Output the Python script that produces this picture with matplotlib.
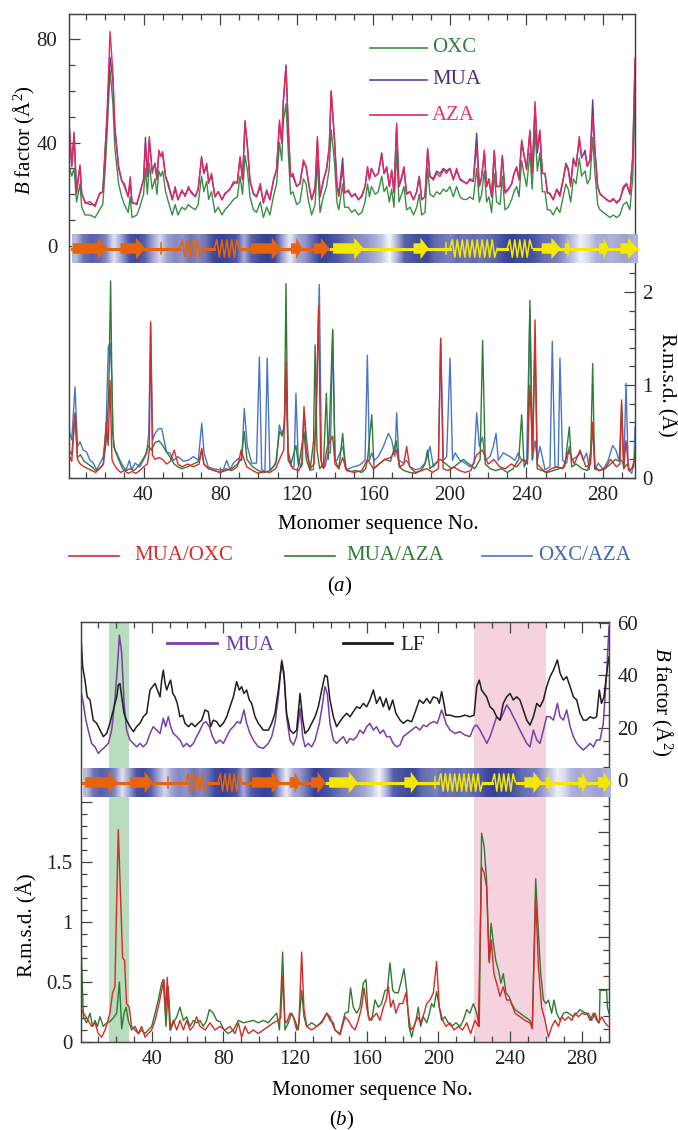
import numpy as np
import matplotlib
matplotlib.use('Agg')
import matplotlib.pyplot as plt
from matplotlib.colors import LinearSegmentedColormap
from matplotlib.lines import Line2D
from matplotlib.patches import Polygon

plt.rcParams['font.family'] = ['Liberation Serif', 'DejaVu Serif']
plt.rcParams['mathtext.fontset'] = 'custom'
plt.rcParams['mathtext.rm'] = 'Liberation Serif'
plt.rcParams['mathtext.it'] = 'Liberation Serif:italic'
plt.rcParams['font.size'] = 15
plt.rcParams['xtick.labelsize'] = 15
plt.rcParams['ytick.labelsize'] = 15

# ---------------- panel (a): B factors of the three complexes ----------------
RES_A = [1.0, 2.5, 3.7, 5.0, 6.8, 7.7, 9.5, 12, 14.7, 17,
         18.7, 20, 21, 22.5, 24, 25, 27, 28.6, 30, 32,
         33, 34, 36.5, 38, 40, 41, 42, 43, 44.5, 46,
         47, 48, 49, 50, 51.5, 53, 55, 56.5, 58, 60,
         61.7, 63.4, 65, 67, 68.5, 70.3, 71.5, 73, 74, 75.5,
         77.3, 79, 81, 82.5, 85, 87, 89, 90.4, 91.7, 93,
         94.3, 95.6, 97.4, 99, 101, 102.6, 104.3, 106, 107.8, 109.5,
         111, 112.2, 113, 114.4, 115.6, 116.8, 118, 120, 121.7, 123.5,
         124.9, 126, 127.8, 129.6, 130.8, 132.2, 133.9, 135.6, 137, 138,
         139.8, 141, 142, 144, 145, 147, 148.7, 150.5, 152.2, 154,
         155.7, 157, 158, 159, 161, 162.6, 164.4, 165.6, 167, 168.4,
         169.6, 170.8, 172.2, 173.4, 174.8, 176, 177.4, 179.2, 181, 182.7,
         184, 185.3, 187, 188.4, 189.6, 191.4, 193.1, 194.8, 196.6, 198.3,
         200, 201.8, 203.5, 205.3, 207, 208.8, 210.5, 212.2, 214, 215.4,
         216.6, 218, 219.2, 220.4, 221.8, 223.2, 224.4, 226.2, 227.4, 228.8,
         230.5, 232.3, 233.5, 234.9, 236.1, 237.5, 238.7, 240.1, 241.8, 243,
         244.5, 245.7, 247, 248.3, 249.7, 250.9, 252.3, 254, 255.8, 257.5,
         259.2, 260.6, 261.8, 263.1, 264.5, 265.9, 267.6, 268.8, 270.6, 271.8,
         273.2, 274.6, 275.7, 277.2, 278.4, 280.1, 281.9, 283.6, 285.4, 287.1,
         288.8, 290.6, 292.3, 294, 295.5, 296.7]
AZA_B = [49.4, 30.7, 42.3, 20.4, 31.3, 20.4, 16.5, 17.2, 15.2, 20.4,
         21, 38.4, 52.6, 82.9, 66.8, 46.2, 30.7, 25.5, 23, 19.1,
         26.8, 16.5, 16.5, 20.4, 25.5, 39.7, 26.8, 42.3, 28.1, 32,
         25.5, 37.1, 34.6, 36.5, 26.8, 23, 17.8, 23, 17.8, 21.7,
         19.1, 23, 20.4, 19.1, 21.7, 34.6, 28.1, 32, 24.2, 28.1,
         19.1, 21, 17.8, 20.4, 21.7, 24.9, 24.2, 34.6, 25.5, 47.5,
         38.4, 25.5, 20.4, 19.1, 24.2, 16.5, 21.7, 17.8, 25.5, 29.4,
         48.7, 39.7, 56.5, 69.4, 46.2, 26.8, 28.1, 23, 24.2, 33.3,
         30.7, 25.5, 17.8, 23, 42.3, 19.1, 25.5, 29.4, 38.4, 59.7,
         41, 23, 19.1, 30, 20.4, 21.7, 19.1, 20.4, 17.8, 19.7,
         23, 30.7, 25.5, 30, 26.8, 28.1, 35.2, 28.1, 30.7, 23,
         29.4, 20.4, 47.5, 23, 26.8, 30.7, 20.4, 21, 17.8, 21,
         26.8, 17.8, 19.1, 37.8, 26.8, 25.5, 28.1, 26.8, 29.4, 28.1,
         30, 25.5, 30, 25.5, 24.9, 24.2, 25.5, 24.9, 38.4, 23,
         26.2, 37.1, 23, 25.5, 19.1, 36.5, 23, 23, 34.6, 20.4,
         21.7, 24.2, 28.1, 30.7, 25.5, 41, 35.8, 29.4, 44.9, 28.1,
         55.8, 37.1, 44.9, 28.1, 28.1, 20.4, 20.4, 17.8, 21.7, 19.1,
         25.5, 31.3, 29.4, 23, 33.3, 30.7, 42.3, 34.6, 35.8, 30.7,
         33.3, 50, 37.1, 23, 20.4, 19.1, 17.8, 17.2, 18.4, 16.5,
         17.8, 23, 24.2, 20.4, 34.6, 72.6]
MUA_B = [48, 31, 44, 21, 31, 20, 17, 16, 16, 20,
         21, 37, 50, 73, 64, 45, 30, 25, 24, 19,
         25, 17, 16, 20, 26, 42, 27, 41, 29, 32,
         26, 36, 35, 35, 27, 24, 18, 22, 18, 21,
         20, 22, 21, 19, 22, 34, 28, 31, 25, 27,
         19, 21, 18, 20, 22, 24, 25, 34, 26, 48.5,
         38, 25, 20, 19, 23, 17, 21, 18, 25, 30,
         47, 40, 55, 70, 45, 27, 27, 23, 24, 32,
         31, 25, 18, 22, 41, 19, 25, 30, 38, 60,
         40, 24, 20, 34, 21, 21, 19, 20, 18, 19,
         23, 30, 26, 30, 27, 28, 36, 28, 30, 23,
         29, 21, 46, 23, 26, 30, 20, 21, 18, 21,
         27, 18, 19, 37, 27, 26, 29, 28, 30, 29,
         30, 26, 29, 26, 25, 24, 26, 25, 43.6, 23,
         27, 36, 23, 26, 19, 37, 23, 23, 35, 21,
         22, 24, 28, 30, 26, 40, 35, 30, 44, 28,
         54, 36, 44, 28, 28, 21, 20, 18, 22, 20,
         26, 32, 30, 24, 34, 31, 41, 34, 37, 31,
         33, 56.5, 38, 23, 20, 19, 18, 17, 18, 17,
         18, 22, 24, 20, 34, 70]
OXC_B = [31, 27, 30, 17, 24, 15, 12, 12, 11, 14,
         16, 30, 44, 68, 55, 38, 24, 19, 16, 13,
         19, 11, 12, 15, 20, 30, 20, 32, 22, 26,
         20, 29, 27, 29, 21, 17, 12, 16, 12, 15,
         14, 16, 15, 14, 16, 27, 21, 25, 18, 21,
         13, 15, 12, 14, 16, 18, 19, 27, 20, 35,
         29, 19, 14, 13, 17, 11, 15, 12, 19, 24,
         40, 33, 48, 55, 36, 20, 21, 16, 17, 26,
         24, 18, 12, 16, 33, 13, 19, 23, 30, 45,
         32, 17, 14, 24, 15, 15, 13, 14, 12, 13,
         17, 24, 19, 23, 20, 21, 27, 21, 23, 17,
         22, 15, 37, 17, 20, 23, 14, 15, 12, 15,
         20, 12, 13, 30, 20, 19, 21, 20, 22, 21,
         23, 19, 23, 19, 18, 18, 19, 18, 30, 17,
         20, 29, 17, 19, 13, 28, 17, 16, 27, 14,
         15, 18, 21, 23, 19, 33, 28, 23, 36, 22,
         45, 29, 36, 21, 21, 14, 14, 12, 15, 13,
         19, 24, 22, 17, 26, 24, 34, 27, 29, 24,
         26, 42, 29, 16, 14, 13, 12, 11, 12, 11,
         12, 16, 17, 14, 26, 55]

# ---------------- panel (a): pairwise r.m.s.d. ----------------
RES_OA = [1, 2.5, 4.2, 5.5, 6.8, 8.5, 10.3, 12, 13.8, 15.5,
          17.3, 19, 20.4, 21.6, 22.5, 23.4, 24.3, 26, 27.7, 29.5,
          31, 32.6, 33.8, 35.6, 38, 39.9, 41.7, 42.7, 43.7, 44.8,
          46, 47.8, 49.5, 50.7, 52, 53.8, 55.6, 58, 60.8, 63.4,
          66, 68.6, 70.4, 71.6, 73.8, 76.5, 79, 81.7, 83.4, 85.2,
          86.9, 89.5, 91.3, 92.6, 94.2, 96.5, 99, 100.5, 101.7, 103.4,
          104.6, 106, 107.8, 109.5, 110.9, 112.2, 113.4, 114.4, 115.6, 117.3,
          118.6, 119.6, 120.8, 122.6, 123.8, 125.2, 126.9, 128.7, 130, 131.8,
          133, 134.8, 136.5, 137.6, 138.8, 140, 141, 144, 146, 149.6,
          153, 155.7, 156.9, 158, 159.2, 160.5, 162.6, 165.3, 167.9, 169.6,
          171.3, 172.2, 173.4, 175.7, 177.4, 179.2, 181.8, 184.4, 187, 188.3,
          189.6, 191.4, 194, 195.2, 196.6, 198.3, 200.1, 201.4, 202.7, 205.3,
          207.9, 210.5, 212.6, 214, 215.4, 217.1, 218.4, 221, 222.7, 224.1,
          225.3, 227.9, 231.4, 234, 235.7, 237.5, 240.1, 241.8, 243, 244.5,
          245.7, 247.1, 249.7, 252.3, 253.5, 254.9, 256.6, 257.5, 258.9, 261,
          262.4, 263.6, 266.2, 268.3, 269.7, 271.4, 272.9, 274.6, 275.8, 277.5,
          280.1, 282.7, 285, 286.7, 288.5, 289.7, 290.9, 292, 293.2, 295,
          296.2, 296.7]
RMSD_OXC_AZA = [0.52, 0.41, 0.98, 0.34, 0.39, 0.30, 0.28, 0.19, 0.16, 0.09,
                0.16, 0.23, 0.52, 1.41, 1.45, 1.09, 0.34, 0.27, 0.19, 0.12,
                0.09, 0.19, 0.09, 0.16, 0.12, 0.19, 0.27, 0.48, 1.66, 0.41,
                0.48, 0.53, 0.53, 0.41, 0.28, 0.27, 0.19, 0.23, 0.18, 0.19,
                0.23, 0.19, 0.59, 0.27, 0.12, 0.10, 0.09, 0.09, 0.19, 0.09,
                0.16, 0.21, 0.19, 0.75, 0.34, 0.16, 0.16, 1.30, 0.09, 0.07,
                1.29, 0.09, 0.12, 0.19, 0.57, 0.48, 0.52, 1.05, 0.19, 0.12,
                0.12, 0.91, 0.19, 0.12, 0.73, 0.41, 0.09, 0.09, 0.60, 2.08,
                0.12, 0.12, 0.27, 0.27, 1.57, 0.19, 0.19, 0.34, 0.09, 0.12,
                0.14, 0.19, 1.32, 0.19, 0.27, 0.19, 0.23, 0.34, 0.48, 0.41,
                0.23, 0.70, 0.19, 0.16, 0.19, 0.12, 0.09, 0.10, 0.16, 0.23,
                0.34, 0.12, 0.19, 1.50, 0.19, 0.23, 1.29, 0.19, 0.27, 0.19,
                0.16, 0.12, 0.16, 0.70, 0.34, 0.44, 0.19, 0.23, 0.34, 0.48,
                0.19, 0.27, 0.23, 0.19, 0.27, 0.19, 0.19, 1.81, 0.19, 0.40,
                0.19, 0.34, 0.09, 0.12, 1.47, 0.12, 0.12, 1.29, 0.19, 0.16,
                0.34, 0.19, 0.23, 0.27, 0.19, 0.27, 0.09, 0.55, 0.09, 0.16,
                0.09, 0.19, 0.35, 0.30, 0.19, 0.19, 0.12, 1.02, 0.09, 0.05,
                0.19, 0.55]

RES_MO = [1, 2.5, 4.2, 5.5, 7, 9, 11, 13, 15, 17,
          19, 20.5, 21.5, 22.5, 23.5, 24.5, 26, 28, 30, 32,
          34, 36, 38, 40, 42, 43, 43.7, 44.6, 46, 48,
          50, 52, 54, 56, 58, 60, 63, 66, 69, 70.4,
          71.5, 74, 77, 80, 83, 86, 89, 91, 92.5, 94,
          97, 100, 103, 106, 109, 111, 113.2, 114.4, 115.6, 118,
          121, 122.8, 123.8, 125, 127, 129, 130.5, 131.4, 132.5, 134,
          136, 138.8, 140, 142, 144, 146, 150, 154, 157, 160,
          163, 166, 169, 172, 174, 176, 177.4, 179, 182, 185,
          188, 191, 194, 195.2, 196.5, 199, 202, 205, 208, 211,
          214, 217, 220, 223, 226, 229, 232, 235, 238, 240.5,
          241.8, 243.2, 244.5, 245.6, 247, 250, 253, 256, 259, 262,
          265, 268, 271, 273.5, 274.6, 275.8, 278, 281, 284, 287,
          288.8, 289.7, 290.8, 292, 293.5, 295, 296.7]
RMSD_MUA_OXC = [0.25, 0.18, 0.68, 0.2, 0.15, 0.12, 0.1, 0.08, 0.06, 0.1,
                0.15, 0.6, 0.35, 1.05, 0.2, 0.15, 0.1, 0.06, 0.08, 0.05,
                0.07, 0.05, 0.08, 0.12, 0.15, 0.3, 1.68, 0.25, 0.2, 0.22,
                0.2, 0.15, 0.18, 0.3, 0.15, 0.12, 0.15, 0.12, 0.15, 0.32,
                0.15, 0.1, 0.08, 0.06, 0.1, 0.08, 0.12, 0.3, 0.2, 0.12,
                0.08, 0.05, 0.07, 0.06, 0.1, 0.2, 0.3, 1.25, 0.2, 0.1,
                0.08, 0.15, 0.77, 0.3, 0.1, 0.15, 0.9, 1.85, 0.2, 0.1,
                0.34, 0.45, 0.15, 0.1, 0.22, 0.08, 0.06, 0.08, 0.2, 0.1,
                0.15, 0.2, 0.22, 0.3, 0.12, 0.15, 0.34, 0.12, 0.06, 0.08,
                0.1, 0.06, 0.1, 1.5, 0.1, 0.08, 0.12, 0.08, 0.06, 0.08,
                0.25, 0.3, 0.15, 0.2, 0.12, 0.1, 0.15, 0.12, 0.2, 0.15,
                1.0, 0.3, 1.7, 0.15, 0.12, 0.06, 0.1, 0.12, 0.1, 0.3,
                0.15, 0.3, 0.12, 0.15, 0.6, 0.12, 0.08, 0.1, 0.2, 0.12,
                0.15, 0.84, 0.1, 0.4, 0.08, 0.1, 0.2]

RES_MA = [1, 2.5, 4.2, 5.5, 7, 9, 11, 13, 15, 17,
          19, 20.5, 21.8, 22.8, 23.8, 25, 27, 29, 31, 33,
          35, 37, 39, 41, 42.5, 44, 46, 48, 50, 52,
          54, 56, 58, 60, 63, 66, 69, 70.4, 71.5, 74,
          77, 80, 83, 86, 89, 91, 92.6, 94, 97, 100,
          103, 106, 109, 111, 112.5, 113.6, 114.4, 115.4, 117, 119.6,
          121, 123.8, 125, 127, 128.8, 129.6, 130.6, 132, 134, 135.5,
          136.5, 138.8, 140, 142, 144, 145.5, 148, 151, 154, 156,
          157, 159.2, 160.4, 163, 166, 169, 172, 173.5, 176, 179,
          182, 185, 187, 188.3, 189.6, 192, 195, 198, 201, 204,
          207, 210, 213, 215.8, 217.1, 218.5, 221, 224, 227, 230,
          233, 236, 237.5, 238.8, 240.6, 241.8, 243.2, 244.5, 245.6, 248,
          251, 254, 257, 260, 262.4, 263.6, 266, 269, 272, 273.6,
          274.6, 275.6, 278, 281, 284, 286.5, 288.5, 289.7, 290.8, 292.5,
          294, 296, 296.7]
RMSD_MUA_AZA = [0.3, 0.25, 0.7, 0.22, 0.25, 0.18, 0.15, 0.12, 0.08, 0.1,
                0.15, 0.4, 0.9, 2.12, 0.5, 0.3, 0.2, 0.1, 0.08, 0.1,
                0.08, 0.12, 0.18, 0.25, 0.35, 0.3, 0.38, 0.4, 0.35, 0.28,
                0.22, 0.15, 0.12, 0.1, 0.12, 0.15, 0.18, 0.3, 0.15, 0.1,
                0.08, 0.06, 0.08, 0.1, 0.15, 0.2, 0.5, 0.2, 0.12, 0.08,
                0.06, 0.08, 0.15, 0.5, 0.45, 0.6, 2.09, 0.3, 0.15, 0.35,
                0.12, 0.5, 0.2, 0.08, 0.4, 1.43, 0.3, 0.1, 0.15, 0.91,
                0.2, 1.6, 0.2, 0.1, 0.48, 0.1, 0.07, 0.08, 0.06, 0.1,
                0.2, 0.68, 0.1, 0.15, 0.2, 0.18, 0.4, 0.12, 0.08, 0.06,
                0.05, 0.08, 0.15, 0.3, 0.1, 0.15, 0.2, 0.15, 0.1, 0.15,
                0.2, 0.15, 0.1, 0.2, 1.48, 0.15, 0.1, 0.08, 0.1, 0.06,
                0.1, 0.2, 0.68, 0.12, 0.2, 1.91, 0.2, 1.5, 0.1, 0.08,
                0.06, 0.08, 0.1, 0.12, 0.55, 0.12, 0.15, 0.1, 0.08, 0.3,
                1.23, 0.1, 0.08, 0.1, 0.15, 0.2, 0.18, 0.78, 0.1, 0.15,
                0.08, 0.12, 0.3]

# ---------------- panel (b): B factors MUA / LF ----------------
RES_LF = [0.4, 1.5, 2.8, 4, 5.6, 7.4, 9.3, 11.2, 13, 14.9,
          16.7, 18.6, 20.5, 21.4, 22.3, 23.3, 24.6, 26, 27.9, 29.8,
          31.6, 33.5, 35.3, 37.2, 39.1, 40.5, 41.9, 43.2, 44.7, 45.6,
          46.5, 47.5, 48.4, 49.7, 50.6, 51.8, 53, 54.3, 55.8, 57.3,
          58.6, 60.5, 62.3, 64.2, 66, 67.9, 69.8, 71.6, 72.9, 74.4,
          76.3, 78.1, 80, 81.9, 83.7, 85.6, 87.4, 88.9, 90.2, 91.5,
          93, 94.5, 95.8, 97.7, 99.5, 102.3, 105.1, 107, 108.8, 110.7,
          112.6, 113.9, 115.3, 117.2, 119.1, 120.9, 122.8, 124.3, 125.6, 127.4,
          129.3, 131.2, 133, 134.9, 136.7, 138, 139.5, 141.4, 143.2, 145,
          147, 148.8, 150.7, 152.5, 154.4, 156.2, 158.1, 160, 161.8, 163.7,
          165.5, 167.4, 169.3, 170.8, 172.6, 174.5, 176.3, 178.6, 180.4, 182.7,
          185.1, 187.5, 189.4, 191.6, 193.5, 195.3, 197.2, 199.4, 200.5, 201.8,
          203.1, 204.2, 206.5, 209.3, 212.1, 214.8, 217.6, 219.9, 221.4, 222.8,
          224.1, 225.5, 226.9, 228.8, 230.7, 232.5, 234.4, 236.2, 238.1, 240,
          241.8, 243.7, 245.5, 247.4, 249.3, 251.1, 253, 254.9, 256.7, 258.6,
          260.4, 262.3, 264.2, 266.4, 267.9, 269.7, 271.6, 273.5, 275.3, 277.2,
          279, 280.9, 282.8, 284.6, 286.5, 288.3, 289.8, 291, 292.4, 293.9,
          295.2]
LF_B = [57.3, 43.3, 38.2, 31.8, 30.6, 22.9, 21.7, 19.1, 16.6, 17.8,
        21.7, 26.8, 31.8, 36.3, 36.9, 31.8, 25.5, 22.9, 20.4, 18.5,
        20.4, 21.7, 24.2, 25.5, 34.4, 35.7, 36.9, 34.4, 31.8, 38.2,
        42, 36.9, 34.4, 36.9, 38.2, 33.1, 31.8, 29.3, 24.2, 24.8,
        21.7, 20.4, 21.7, 20.4, 21.7, 22.9, 26.8, 26.1, 20.4, 22.9,
        22.3, 20.4, 21.7, 24.2, 28, 31.8, 37.6, 34.4, 35.7, 33.1,
        34.4, 30.6, 29.3, 24.2, 21.7, 19.1, 19.1, 21.7, 25.5, 34.4,
        45.2, 39.5, 25.5, 19.1, 17.8, 19.1, 33.1, 22.9, 17.8, 19.1,
        21.7, 24.2, 28, 34.4, 40.1, 39.5, 30.6, 24.2, 20.4, 22.3,
        24.2, 25.5, 24.2, 26.1, 28, 27.4, 29.3, 28, 30.6, 34.4,
        29.3, 31.8, 28, 31.2, 26.8, 30.6, 25.5, 22.9, 21.7, 22.9,
        22.3, 26.8, 30.6, 29.3, 31.2, 29.3, 31.8, 31.2, 29.3, 33.8,
        29.3, 24.8, 24.8, 24.2, 24.2, 24.8, 24.2, 24.8, 35.7, 38.2,
        34.4, 33.1, 31.8, 28, 26.8, 24.2, 22.9, 29.3, 31.8, 33.1,
        30.6, 31.8, 30.6, 26.8, 22.9, 21, 24.2, 29.3, 28, 30.6,
        35.7, 39.5, 42, 45.9, 40.8, 38.2, 39.5, 35.7, 31.8, 30.6,
        25.5, 22.9, 22.9, 24.2, 23.6, 24.2, 34.4, 29.3, 31.8, 40.8,
        47.1]

RES_MUA = [0.4, 1.9, 3.3, 4.6, 6.5, 8.4, 10.2, 12.1, 14, 15.8,
           17.7, 19.5, 20.9, 22, 23.3, 24.6, 26, 27.9, 29.8, 31.6,
           33.5, 35.3, 37.2, 39.1, 40.9, 42.8, 44.7, 46.5, 47.8, 49.3,
           50.6, 52.1, 54, 55.8, 57.7, 59.5, 61.4, 63.3, 65.1, 67,
           68.8, 70.3, 72.2, 74, 75.9, 78.1, 80, 81.9, 83.7, 85.6,
           87.8, 89.6, 91.5, 93, 94.9, 96.7, 99.5, 102.3, 105.1, 107,
           108.8, 110.7, 112.6, 113.9, 115.3, 117.2, 119.1, 120.9, 122.8, 124.3,
           125.6, 127.4, 129.3, 131.2, 133.6, 135.4, 136.7, 138, 139.5, 141.4,
           143.2, 145, 147, 148.8, 150.7, 152.5, 154.4, 156.2, 158.1, 160,
           161.8, 163.7, 165.5, 167.4, 169.3, 171.1, 173, 174.8, 176.7, 178.6,
           180.4, 182.7, 185.1, 187.5, 189.7, 191.6, 193.5, 195.3, 197.5, 199.4,
           201.8, 203.1, 204.2, 206.5, 209.3, 212.1, 214.8, 217.6, 219.9, 221.4,
           223.2, 225.1, 227, 228.8, 230.7, 232.5, 234.4, 236.2, 238.1, 240,
           241.8, 243.7, 245.5, 247.4, 249.3, 251.1, 253, 254.9, 256.7, 258.6,
           260.4, 262.3, 264.2, 266.4, 267.9, 269.7, 271.6, 273.5, 275.3, 277.2,
           279, 280.9, 282.8, 284.6, 286.5, 288.3, 290.2, 292, 293.9, 295.2]
MUA_B2 = [34.4, 29.3, 22.9, 19.1, 14, 12.7, 10.2, 11.5, 12.7, 14,
          19.1, 30.6, 43.3, 55.4, 48.4, 29.3, 19.1, 15.3, 14, 12.7,
          14, 12.7, 14, 17.8, 20.4, 19.1, 17.8, 23.6, 20.4, 24.2,
          20.4, 17.8, 16.6, 15.3, 12.7, 14, 12.7, 14, 16.6, 19.1,
          21.7, 22.3, 20.4, 16.6, 14, 15.3, 14, 16.6, 19.1, 20.4,
          22.3, 21.7, 26.8, 21.7, 17.8, 15.3, 12.7, 12.1, 14, 16.6,
          21.7, 31.8, 45.9, 40.8, 24.2, 15.3, 13.4, 16.6, 27.4, 16.6,
          12.7, 14, 12.7, 15.3, 21.7, 29.3, 35.7, 33.1, 21.7, 15.3,
          14, 15.3, 16.6, 14, 15.9, 15.3, 16.6, 19.1, 17.8, 20.4,
          21.7, 19.1, 20.4, 17.8, 19.1, 16.6, 16.6, 14, 12.7, 13.4,
          16.6, 17.8, 19.1, 20.4, 19.1, 21, 20.4, 21.7, 22.3, 21.7,
          26.8, 24.2, 21.7, 19.1, 17.8, 18.5, 17.2, 16.6, 20.4, 21,
          19.1, 16.6, 14, 16.6, 20.4, 24.2, 22.9, 25.5, 28.7, 26.8,
          24.2, 21.7, 19.1, 16.6, 14, 12.7, 19.1, 15.3, 14, 19.1,
          24.2, 24.2, 22.9, 29.3, 24.2, 22.9, 26.8, 20.4, 16.6, 14,
          12.7, 11.5, 12.7, 14, 12.7, 15.3, 15.3, 21.7, 40.8, 58.6]

# ---------------- panel (b): r.m.s.d. ----------------
RES_RED_B = [0.4, 1.9, 3.3, 4.6, 6.5, 8.4, 10.2, 12.1, 14, 15.3,
             16.7, 18.2, 19.5, 20.5, 21.4, 22.7, 23.8, 24.9, 26, 27.5,
             28.8, 30.7, 32.6, 34.4, 36.3, 38.1, 40, 41.9, 43.7, 45.6,
             46.9, 47.8, 48.7, 50.2, 52.1, 54, 55.8, 57.7, 59.5, 61.4,
             63.3, 65.1, 67, 69.8, 72.6, 75.3, 78.1, 80.9, 83.7, 86.5,
             88.4, 90.2, 92.1, 94, 96.7, 99.5, 102.3, 105.1, 107.9, 110.7,
             112, 113.1, 114.3, 115.3, 117.2, 119.1, 120.9, 122.2, 123.7, 125,
             126.5, 129.3, 132.1, 134.9, 137.7, 139.5, 141.4, 142.3, 145.1, 147.9,
             149.7, 151.6, 153.5, 155.3, 157.2, 158.5, 160, 161.5, 163.7, 165.5,
             167.4, 169.3, 170.8, 172.1, 173.4, 174.8, 176.3, 178.2, 180.1, 181.9,
             183.2, 184.5, 186.4, 188.2, 190.1, 192, 193.5, 195.3, 197.2, 199,
             200.5, 202.4, 204.2, 206.5, 208.7, 211.1, 213.5, 215.8, 218, 220.4,
             222.3, 224.1, 225.5, 226.9, 228.4, 229.5, 231, 232.5, 234.4, 236.2,
             238.1, 240, 242.8, 245.5, 248.3, 251.1, 252.4, 254.3, 255.8, 257.6,
             259.5, 261.4, 263.3, 265.1, 267, 268.8, 270.7, 272.5, 274.4, 276.2,
             278.1, 280, 281.8, 283.7, 285.5, 287.4, 289.3, 291.1, 293, 294.8]
RMSD_RED_B = [0.29, 0.24, 0.21, 0.18, 0.13, 0.16, 0.07, 0.04, 0.10, 0.16,
              0.24, 0.41, 0.46, 1.18, 1.77, 1.18, 0.70, 0.68, 0.32, 0.29,
              0.13, 0.10, 0.07, 0.13, 0.04, 0.07, 0.10, 0.18, 0.29, 0.43,
              0.52, 0.24, 0.54, 0.10, 0.18, 0.10, 0.18, 0.10, 0.18, 0.10,
              0.13, 0.21, 0.13, 0.10, 0.16, 0.10, 0.13, 0.10, 0.13, 0.07,
              0.16, 0.04, 0.13, 0.07, 0.10, 0.07, 0.10, 0.13, 0.16, 0.18,
              0.20, 0.55, 0.18, 0.16, 0.24, 0.21, 0.10, 0.16, 0.75, 0.27,
              0.13, 0.10, 0.13, 0.16, 0.24, 0.21, 0.13, 0.10, 0.06, 0.21,
              0.18, 0.13, 0.10, 0.18, 0.29, 0.45, 0.29, 0.18, 0.21, 0.24,
              0.18, 0.29, 0.35, 0.46, 0.29, 0.35, 0.24, 0.32, 0.32, 0.41,
              0.24, 0.10, 0.13, 0.21, 0.16, 0.24, 0.32, 0.35, 0.41, 0.67,
              0.29, 0.18, 0.13, 0.16, 0.10, 0.13, 0.10, 0.16, 0.07, 0.18,
              0.13, 1.46, 1.41, 1.29, 0.66, 0.85, 0.57, 0.49, 0.38, 0.46,
              0.35, 0.35, 0.24, 0.21, 0.18, 0.16, 0.11, 1.21, 0.63, 0.29,
              0.18, 0.04, 0.13, 0.18, 0.13, 0.21, 0.18, 0.21, 0.18, 0.24,
              0.21, 0.24, 0.23, 0.24, 0.18, 0.24, 0.16, 0.21, 0.16, 0.13]

RES_GREEN_B = [0.4, 1.9, 3.7, 5.6, 7.1, 8.4, 9.7, 11.2, 13, 14.9,
               16.7, 18.6, 20.5, 22, 23.3, 24.6, 25.7, 27, 28.8, 30.7,
               32.6, 34.4, 36.3, 38.1, 40, 41.9, 43.7, 45.6, 46.5, 48,
               49.3, 50.6, 52.1, 54, 55.8, 57.7, 59.5, 61.4, 63.3, 65.1,
               67, 68.8, 70.7, 72.2, 74.4, 76.3, 78.1, 80.4, 82.8, 85.6,
               88.4, 91.2, 94, 96.7, 99.5, 102.3, 105.1, 107.9, 109.8, 111.3,
               113.1, 114.4, 116.3, 118.1, 120, 121.8, 123.7, 125, 126.5, 129.3,
               132.1, 134.9, 137.7, 139.5, 141.4, 142.3, 145.1, 147.9, 149.7, 151,
               152.5, 154.4, 156.2, 158.1, 159.6, 160.9, 162.8, 164.6, 166.5, 168.3,
               170.2, 171.5, 173, 174.5, 175.8, 177.6, 179.5, 180.8, 182.3, 183.6,
               185.1, 186.4, 187.5, 188.8, 190.1, 191.6, 193.5, 195, 196.2, 197.5,
               199, 200.5, 201.8, 203.7, 205.5, 207.4, 209.8, 212.1, 213.9, 215.8,
               217.6, 219.5, 221.4, 222.8, 224.1, 225.5, 226.9, 228.2, 229.4, 230.7,
               232, 233.5, 234.9, 236.2, 237.7, 239.4, 240.9, 242.8, 245.5, 248.3,
               251.1, 252.4, 254.3, 255.8, 257.1, 258.6, 260, 261.4, 263.2, 264.5,
               266, 267.9, 269.8, 271.6, 273.5, 275.3, 277.2, 279, 280.9, 282.8,
               284.6, 286.5, 288.3, 289.8, 290.2, 293.9, 294.3, 295.2]
RMSD_GREEN_B = [0.91, 0.21, 0.16, 0.24, 0.13, 0.18, 0.13, 0.21, 0.13, 0.16,
                0.17, 0.20, 0.24, 0.50, 0.11, 0.24, 0.29, 0.18, 0.10, 0.13,
                0.07, 0.10, 0.07, 0.10, 0.13, 0.24, 0.35, 0.49, 0.52, 0.13,
                0.46, 0.10, 0.16, 0.21, 0.29, 0.18, 0.21, 0.13, 0.18, 0.16,
                0.18, 0.13, 0.18, 0.27, 0.24, 0.18, 0.17, 0.10, 0.07, 0.10,
                0.18, 0.16, 0.17, 0.18, 0.16, 0.18, 0.16, 0.21, 0.24, 0.10,
                0.75, 0.10, 0.16, 0.24, 0.18, 0.10, 0.43, 0.21, 0.13, 0.16,
                0.13, 0.17, 0.24, 0.18, 0.16, 0.10, 0.07, 0.24, 0.25, 0.45,
                0.29, 0.24, 0.29, 0.49, 0.52, 0.21, 0.18, 0.35, 0.29, 0.32,
                0.43, 0.43, 0.66, 0.43, 0.41, 0.41, 0.52, 0.61, 0.43, 0.13,
                0.04, 0.13, 0.18, 0.29, 0.13, 0.21, 0.16, 0.24, 0.32, 0.29,
                0.42, 0.29, 0.18, 0.21, 0.16, 0.13, 0.16, 0.13, 0.18, 0.27,
                0.24, 0.32, 0.24, 0.13, 1.74, 1.63, 1.35, 0.68, 0.99, 0.82,
                0.68, 0.60, 0.49, 0.57, 0.41, 0.38, 0.32, 0.27, 0.24, 0.21,
                0.18, 0.13, 1.36, 0.91, 0.57, 0.35, 0.32, 0.35, 0.24, 0.35,
                0.24, 0.18, 0.24, 0.25, 0.23, 0.21, 0.24, 0.27, 0.25, 0.24,
                0.18, 0.24, 0.18, 0.16, 0.43, 0.43, 0.29, 0.24]

# ---------------- secondary structure strip ----------------
# shading level per 4-residue bin, residues 1..297
BAND_LEVEL = [0.35, 0.7, 0.8, 0.75, 0.6, 0.15, 0.5, 0.85, 0.9, 0.8,
              0.5, 0.2, 0.5, 0.6, 0.55, 0.7, 0.6, 0.7, 0.9, 0.95,
              0.9, 0.85, 0.45, 0.8, 0.9, 0.95, 0.9, 0.5, 0.1, 0.45,
              0.55, 0.75, 0.95, 0.9, 0.85, 0.75, 0.65, 0.6, 0.55, 0.45,
              0.3, 0.05, 0.4, 0.8, 0.85, 0.9, 0.9, 0.75, 0.7, 0.65,
              0.75, 0.7, 0.75, 0.7, 0.75, 0.8, 0.9, 0.95, 0.9, 0.9,
              0.85, 0.75, 0.7, 0.65, 0.5, 0.3, 0.08, 0.2, 0.4, 0.45,
              0.4, 0.45, 0.5, 0.4]
STRANDS = [(3, 21), (28, 41), (96, 112), (117, 123), (129, 137), (139, 155),
           (181, 189), (248, 258), (260, 263), (278, 283), (289, 298)]
HELICES = [(59, 71), (77, 91), (200, 225), (230, 244)]
TURNS = [49, 198]
DOMAIN_SPLIT = 138

ORANGE = '#e8640c'
YELLOW = '#f4e800'
band_cmap = LinearSegmentedColormap.from_list('band', ['#ffffff', '#9c9fd0', '#2a3690'])

W, H = 678.0, 1130.0
fig = plt.figure(figsize=(W / 100, H / 100), dpi=100)


def rect(x0, y0, x1, y1):
    # pixel box, origin top-left -> figure fraction
    return [x0 / W, 1 - y1 / H, (x1 - x0) / W, (y1 - y0) / H]


def fx(x):
    return x / W


def fy(y):
    return 1 - y / H


def frame(ax):
    for s in ax.spines.values():
        s.set_color('#444444')
        s.set_linewidth(0.9)
    ax.tick_params(which='both', colors='#444444', labelcolor='#222222', width=0.9)
    ax.tick_params(which='major', length=8)
    ax.tick_params(which='minor', length=4)


def x_ticks(ax):
    ax.set_xticks([40, 80, 120, 160, 200, 240, 280])
    ax.set_xticks(np.arange(10, 297, 10), minor=True)
    ax.tick_params(axis='x', which='both', direction='in', top=True, bottom=True, pad=6)


def ss_color(x):
    return ORANGE if x < DOMAIN_SPLIT else YELLOW


def draw_strip(ax, x0, x1, xlim):
    ax.imshow(np.array(BAND_LEVEL)[np.newaxis, :], cmap=band_cmap, vmin=0, vmax=1,
              aspect='auto', extent=(x0, x1, -1, 1), interpolation='bilinear',
              clip_on=False)
    # coil: everything not covered by a helix
    cuts = [x0] + [v for h in HELICES for v in h] + [x1]
    for a, b in zip(cuts[0::2], cuts[1::2]):
        if a < DOMAIN_SPLIT < b:
            ax.plot([a, DOMAIN_SPLIT], [0, 0], color=ORANGE, lw=2.2, clip_on=False)
            ax.plot([DOMAIN_SPLIT, b], [0, 0], color=YELLOW, lw=2.2, clip_on=False)
        else:
            ax.plot([a, b], [0, 0], color=ss_color(a), lw=2.2, clip_on=False)
    for s, e in HELICES:
        xs = np.arange(s, e + 0.01, 1.3)
        ys = np.where(np.arange(len(xs)) % 2 == 0, -0.6, 0.6)
        ys[0] = 0
        ys[-1] = 0
        ax.plot(xs, ys, color=ss_color(s), lw=1.1, clip_on=False)
    for t in TURNS:
        ax.plot([t, t], [-0.4, 0.4], color=ss_color(t), lw=1.1, clip_on=False)
    for s, e in STRANDS:
        e = min(e, x1)
        head = min(5.0, 0.55 * (e - s))
        pts = [(s, -0.36), (e - head, -0.36), (e - head, -0.74), (e, 0),
               (e - head, 0.74), (e - head, 0.36), (s, 0.36)]
        ax.add_patch(Polygon(pts, closed=True, fc=ss_color(s), ec='none', clip_on=False))
    ax.set_xlim(*xlim)
    ax.set_ylim(-1, 1)
    ax.axis('off')


# ================= panel (a) =================
XLIM_A = (0.8, 296.7)
axa = fig.add_axes(rect(68.5, 14, 635, 478))
axa.set_xlim(*XLIM_A)
axa.set_ylim(-89.7, 89.7)
axa.plot(RES_A, OXC_B, color='#3a8d46', lw=1.0)
axa.plot(RES_A, MUA_B, color='#5a3d9a', lw=1.0)
axa.plot(RES_A, AZA_B, color='#e3285f', lw=1.0)
frame(axa)
x_ticks(axa)
axa.set_xticklabels(['40', '80', '120', '160', '200', '240', '280'])
axa.set_yticks([0, 40, 80])
axa.set_yticks(np.arange(10, 80, 10), minor=True)
axa.tick_params(axis='y', which='both', direction='in', pad=8)

axa2 = axa.twinx()
axa2.set_ylim(0, 4.99)
axa2.plot(RES_OA, RMSD_OXC_AZA, color='#4a76c4', lw=1.0)
axa2.plot(RES_MA, RMSD_MUA_AZA, color='#2f7d34', lw=1.0)
axa2.plot(RES_MO, RMSD_MUA_OXC, color='#d62b2b', lw=1.0)
frame(axa2)
axa2.set_yticks([0, 1, 2])
axa2.set_yticks(np.arange(0.2, 2.3, 0.2), minor=True)
axa2.tick_params(axis='y', which='both', direction='in', pad=5)

strip_a = fig.add_axes(rect(68.5, 234, 635, 263))
draw_strip(strip_a, 2.5, 298, XLIM_A)

# legend inside the top part
for yy, name, lc, tc in [(48, 'OXC', '#3a8d46', '#2f7f3a'),
                         (80, 'MUA', '#5a3d9a', '#4a2f86'),
                         (115, 'AZA', '#e3285f', '#e8336d')]:
    fig.add_artist(Line2D([fx(370), fx(427)], [fy(yy), fy(yy)], color=lc, lw=1.2))
    fig.text(fx(432), fy(yy), name, color=tc, ha='left', va='center', fontsize=15)

fig.text(fx(24), fy(140), r'$B$ factor (Å$^2$)', rotation=90, ha='center', va='center')
fig.text(fx(667), fy(385), 'R.m.s.d. (Å)', rotation=270, ha='center', va='center')
fig.text(fx(378), fy(525), 'Monomer sequence No.', ha='center', va='center')
for x_l, x_t, name, lc, tc in [(69, 134, 'MUA/OXC', '#d62b2b', '#d32f2f'),
                               (285, 346, 'MUA/AZA', '#2f7d34', '#2e7d32'),
                               (482, 538, 'OXC/AZA', '#4a76c4', '#4169b5')]:
    fig.add_artist(Line2D([fx(x_l), fx(x_l + 50)], [fy(556), fy(556)], color=lc, lw=1.2))
    fig.text(fx(x_t), fy(556), name, color=tc, ha='left', va='center', fontsize=15)
fig.text(fx(340), fy(586), r'($a$)', ha='center', va='center')

# ================= panel (b) =================
XLIM_B = (0.3, 295.2)
axb = fig.add_axes(rect(80.5, 622, 609, 1042))
axb.set_xlim(*XLIM_B)
axb.set_ylim(0, 3.5)
axb.axvspan(16.2, 27.3, color='#b8dcbc', lw=0, zorder=0)
axb.axvspan(219.9, 260, color='#f4d3de', lw=0, zorder=0)
axb.plot(RES_GREEN_B, RMSD_GREEN_B, color='#2e7a30', lw=1.0)
axb.plot(RES_RED_B, RMSD_RED_B, color='#d42a2a', lw=1.0)
frame(axb)
x_ticks(axb)
axb.set_xticklabels(['40', '80', '120', '160', '200', '240', '280'])
axb.set_yticks([0, 0.5, 1, 1.5, 2])
axb.set_yticklabels(['0', '0.5', '1', '1.5', ''])
axb.set_yticks(np.arange(0.1, 2.0, 0.1), minor=True)
axb.tick_params(axis='y', which='both', direction='in', pad=6)

axb2 = axb.twinx()
axb2.set_ylim(-100.1, 60.4)
axb2.plot(RES_MUA, MUA_B2, color='#7a3ea8', lw=1.1)
axb2.plot(RES_LF, LF_B, color='#1e1e1e', lw=1.1)
frame(axb2)
axb2.set_yticks(np.arange(-80, 61, 20))
axb2.set_yticklabels(['', '', '', '', '0', '20', '40', '60'])
axb2.set_yticks(np.arange(-95, 60, 5), minor=True)
axb2.tick_params(axis='y', which='both', direction='in', pad=6)

strip_b = fig.add_axes(rect(80.5, 768, 609, 797))
draw_strip(strip_b, 1.7, 296, XLIM_B)

fig.add_artist(Line2D([fx(167), fx(217)], [fy(643), fy(643)], color='#7a3ea8', lw=2.0))
fig.text(fx(225), fy(645), 'MUA', color='#6f3aa0', ha='left', va='center', fontsize=15)
fig.add_artist(Line2D([fx(343), fx(392)], [fy(643), fy(643)], color='#1e1e1e', lw=2.0))
fig.text(fx(400), fy(645), 'LF', color='#222222', ha='left', va='center', fontsize=15)

fig.text(fx(662), fy(702), r'$B$ factor (Å$^2$)', rotation=270, ha='center', va='center')
fig.text(fx(27), fy(925), 'R.m.s.d. (Å)', rotation=90, ha='center', va='center')
fig.text(fx(372), fy(1090), 'Monomer sequence No.', ha='center', va='center')
fig.text(fx(342), fy(1120), r'($b$)', ha='center', va='center')

fig.savefig('out.png', dpi=100)
